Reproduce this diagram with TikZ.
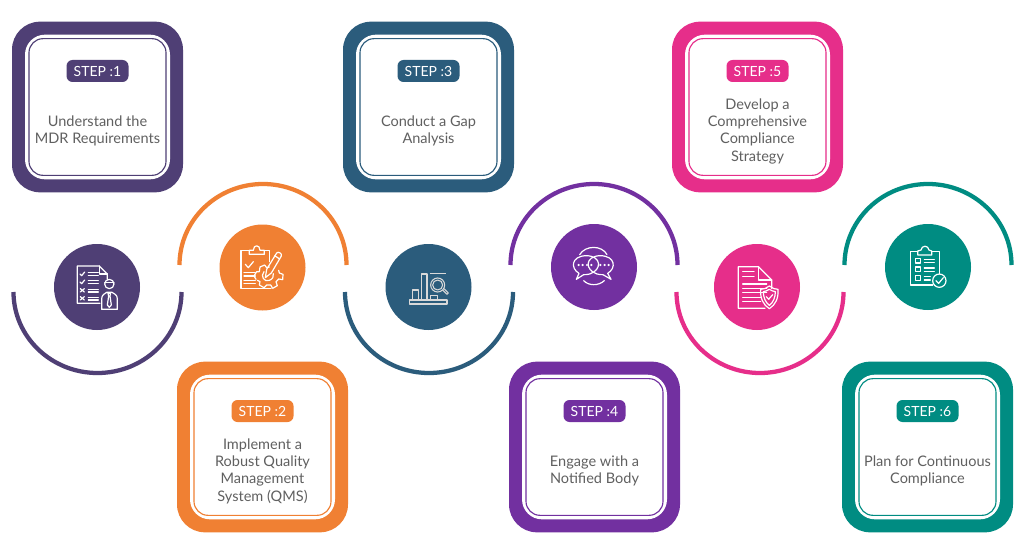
\documentclass[tikz,border=0pt]{standalone}
\usepackage{fontspec}
\setmainfont{Lato}
\definecolor{cA}{HTML}{4F3F75}
\definecolor{cB}{HTML}{F08033}
\definecolor{cC}{HTML}{2B5C7C}
\definecolor{cD}{HTML}{7230A0}
\definecolor{cE}{HTML}{E62E8A}
\definecolor{cF}{HTML}{008C82}
\definecolor{txt}{HTML}{606060}
\tikzset{
 outerbox/.style={fill=#1,minimum width=128.25pt,minimum height=128pt,rounded corners=21pt,inner sep=0pt,outer sep=0pt},
 whitebox/.style={fill=white,minimum width=108.75pt,minimum height=108.5pt,rounded corners=15pt,inner sep=0pt,outer sep=0pt},
 linebox/.style={draw=#1,line width=.85pt,fill=white,minimum width=102.75pt,minimum height=102.5pt,rounded corners=10.5pt,inner sep=0pt,outer sep=0pt},
 pill/.style={fill=#1,text=white,minimum width=46.5pt,minimum height=16.5pt,rounded corners=4.5pt,inner sep=0pt,font=\fontsize{10.5}{12}\selectfont},
 body/.style={text=txt,align=center,inner sep=0pt,font=\fontsize{10.9}{13}\selectfont},
 wave/.style={draw=#1,line width=3.2pt},
 disc/.style={fill=#1,circle,minimum size=64.5pt,inner sep=0pt},
 ico/.style={draw=white,line width=.9pt,line cap=round,line join=round},
 icothin/.style={draw=white!85!black,line width=.8pt,line join=round}
}
\newcommand{\stepcard}[7]{% name, cx, cy, colour, step, text cy, text
 \node[outerbox=#4] (#1o) at (#2,#3) {};
 \node[whitebox] (#1w) at (#2,#3) {};
 \node[linebox=#4] (#1l) at (#2,#3) {};
 \node[pill=#4] (#1p) at (#2,#3-36) {STEP :#5};
 \node[body] (#1t) at (#2,#6) {#7};
}
\begin{document}
\begin{tikzpicture}[x=.75pt,y=-.75pt]
\useasboundingbox (0,0) rectangle (1024,556);
\fill[white] (0,0) rectangle (1024,556);
% wave arcs
\draw[wave=cA] (13.5,292) arc[start angle=180,end angle=0,x radius=84,y radius=81];
\draw[wave=cB] (179.5,265) arc[start angle=180,end angle=360,x radius=83.5,y radius=81];
\draw[wave=cC] (345,292) arc[start angle=180,end angle=0,x radius=84,y radius=81];
\draw[wave=cD] (510.5,265) arc[start angle=180,end angle=360,x radius=83.5,y radius=81];
\draw[wave=cE] (676.5,292) arc[start angle=180,end angle=0,x radius=83.5,y radius=81];
\draw[wave=cF] (844.5,265) arc[start angle=180,end angle=360,x radius=83.5,y radius=81];
% discs
\node[disc=cA] (d1) at (97,287) {};
\node[disc=cB] (d2) at (262.5,267.5) {};
\node[disc=cC] (d3) at (428.5,287) {};
\node[disc=cD] (d4) at (594,267) {};
\node[disc=cE] (d5) at (757,287) {};
\node[disc=cF] (d6) at (928,267) {};
% cards
\stepcard{s1}{97.5}{107}{cA}{1}{131}{Understand the\\MDR Requirements}
\stepcard{s3}{428.5}{107}{cC}{3}{131}{Conduct a Gap\\Analysis}
\stepcard{s5}{757.5}{107}{cE}{5}{131}{Develop a\\Comprehensive\\Compliance\\Strategy}
\stepcard{s2}{262.5}{447}{cB}{2}{471}{Implement a\\Robust Quality\\Management\\System (QMS)}
\stepcard{s4}{594.5}{447}{cD}{4}{471}{Engage with a\\Notified Body}
\stepcard{s6}{927.5}{447}{cF}{6}{471}{Plan for Continuous\\Compliance}
% icon 1
\begin{scope}[shift={(70,260)},scale=1/3]
 \draw[ico] (90,130)--(22,130)--(22,18)--(88,18)--(112,42)--(112,58);
 \draw[ico] (88,18)--(88,42)--(112,42);
 \draw[ico] (30,42)--(35,47)--(44,36) (30,66)--(35,71)--(44,60);
 \draw[ico] (31,86)--(43,96) (43,86)--(31,96) (31,110)--(43,120) (43,110)--(31,120);
 \foreach \y in {38,46,62,70,88,96,112,120} \draw[ico] (55,\y)--(85,\y);
 \draw[ico] (118,72) circle[radius=14];
 \draw[ico] (104,68)--(132,68);
 \draw[ico] (95,148)--(95,116)..controls (95,105) and (105,100)..(110,97)--(126,97)..controls (132,100) and (142,105)..(142,116)--(142,148)--cycle;
 \draw[ico] (114,100)--(122,100)--(120,108)--(124,135)--(118,142)--(112,135)--(116,108)--cycle;
\end{scope}
% icon 2
\begin{scope}[shift={(236,241)},scale=1/3]
 \draw[ico] (40,28)--(15,28)--(15,142)--(105,142);
 \draw[ico] (85,28)--(100,28)--(100,62);
 \draw[ico] (40,40)--(40,28)--(52,28)..controls (52,10) and (72,10)..(72,28)--(85,28)--(85,40)--cycle;
 \draw[ico] (28,70)--(37,80)--(52,62);
 \foreach \y in {95,105,118,128} \draw[ico] (24,\y)--(58,\y);
 \draw[ico] (60,115)--(54,105)--(62,92)--(70,92)--(72,78)--(86,72)--(92,80)--(100,78);
 \draw[ico] (64,118)--(72,122)--(70,132)--(84,140)--(92,132)--(104,132)--(110,142)--(124,134)--(120,122)--(128,114)--(140,116)--(141,100)--(130,96)--(128,88);
 \draw[ico] (84,92)..controls (72,105) and (85,125)..(100,118)..controls (110,115) and (114,105)..(112,98);
 \draw[ico] (88,110)--(92,85)--(122,36)..controls (126,30) and (140,38)..(136,45)--(106,96)--cycle;
 \draw[ico] (116,44)--(131,54);
\end{scope}
% icon 3
\begin{scope}[shift={(402,260)},scale=1/3]
 \draw[icothin] (22,120) rectangle (135,132);
 \draw[icothin] (32,120)--(32,90)--(50,90)--(50,120);
 \draw[icothin] (58,120)--(58,42)--(75,42)--(75,120);
 \draw[icothin] (85,120)--(85,106)--(106,106)--(106,120);
 \draw[icothin] (83,40)--(132,40);
 \draw[icothin] (107,75) circle[radius=21];
 \draw[icothin] (107,75) circle[radius=15];
 \draw[icothin] (122,90)--(135,103)--(139,99)--(126,86);
\end{scope}
% icon 4
\begin{scope}[shift={(567,240)},scale=1/3]
 \draw[ico] (36,100)..controls (10,85) and (12,48)..(58,47)..controls (105,48) and (105,90)..(68,102)..controls (62,104) and (55,104)..(50,104)--(28,118)--cycle;
 \draw[ico] (122,100)..controls (148,85) and (146,48)..(100,47)..controls (53,48) and (53,90)..(90,102)..controls (96,104) and (103,104)..(108,104)--(132,118)--cycle;
 \draw[ico] (38,44)..controls (55,15) and (105,15)..(120,44);
 \draw[ico] (50,122)..controls (65,138) and (95,138)..(112,122);
 \foreach \x in {35,47,60,73,100,113,125} \fill[white] (\x,75) circle[radius=3.6];
\end{scope}
% icon 5
\begin{scope}[shift={(730,260)},scale=1/3]
 \draw[ico] (105,145)--(25,145)--(25,20)--(85,20)--(125,60)--(125,85);
 \draw[ico] (85,20)--(85,60)--(125,60);
 \foreach \y in {35,50} \draw[ico] (38,\y)--(72,\y);
 \draw[ico] (38,72)--(110,72);
 \foreach \y in {85,98} \draw[ico] (38,\y)--(110,\y);
 \foreach \y in {112,125} \draw[ico] (38,\y)--(92,\y);
 \draw[ico] (118,78)..controls (110,85) and (100,88)..(92,88)..controls (90,115) and (100,135)..(118,146)..controls (136,135) and (146,115)..(144,88)..controls (136,88) and (126,85)..(118,78)--cycle;
 \draw[ico] (118,88)..controls (112,92) and (106,94)..(100,95)..controls (100,112) and (106,127)..(118,136)..controls (130,127) and (136,112)..(136,95)..controls (130,94) and (124,92)..(118,88)--cycle;
 \draw[ico] (109,110)--(116,118)--(128,104);
\end{scope}
% icon 6
\begin{scope}[shift={(901,240)},scale=1/3]
 \draw[ico] (95,135)--(28,135)--(28,35)--(50,35);
 \draw[ico] (92,35)--(115,35)--(115,102);
 \draw[ico] (50,45)--(50,33)--(60,30)..controls (62,15) and (82,15)..(84,30)--(92,33)--(92,45)--cycle;
 \draw[ico] (44,55) rectangle (58,69);
 \draw[ico] (44,81) rectangle (58,95);
 \draw[ico] (44,107) rectangle (58,121);
 \foreach \y in {58,68,84,94} \draw[ico] (70,\y)--(100,\y);
 \foreach \y in {110,120} \draw[ico] (70,\y)--(88,\y);
 \draw[ico] (115,122) circle[radius=20];
 \draw[ico] (105,122)--(113,130)--(127,113);
\end{scope}
\end{tikzpicture}
\end{document}
